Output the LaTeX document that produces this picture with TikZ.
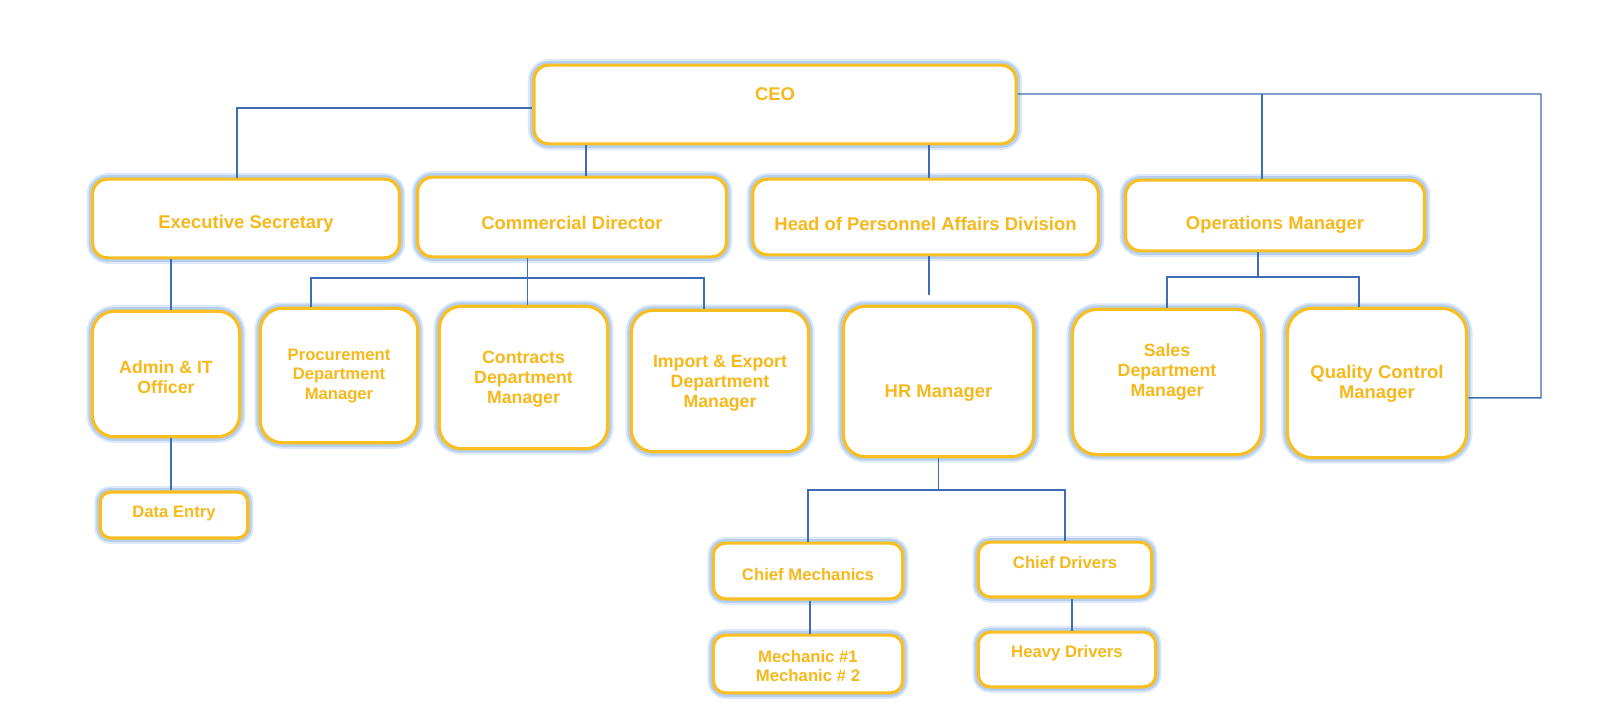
\documentclass[tikz,border=0pt]{standalone}
\usepackage{fontspec}
\setmainfont{Liberation Sans}
\usetikzlibrary{calc}
\definecolor{gold}{HTML}{F9BE22}
\definecolor{goldtxt}{HTML}{F6B81A}
\definecolor{haloin}{HTML}{B4CFF0}
\definecolor{haloout}{HTML}{DDE9F8}
\definecolor{linkblue}{HTML}{3F6DB3}
\tikzset{
  orgbox/.style={draw=gold, line width=3.2bp, fill=white, inner sep=0pt,
    preaction={draw=haloout, line width=12bp},
    preaction={draw=haloin, line width=8bp}},
  boxtxt/.style={text=goldtxt, align=center, inner sep=0pt},
  link/.style={draw=linkblue, line width=1.4bp}
}

\begin{document}
\begin{tikzpicture}[x=1bp,y=-1bp]
  \useasboundingbox (0,0) rectangle (1600,728);
  % boxes: name / left / top / right / bottom / corner / text y / size / text
  \foreach \nm/\xa/\ya/\xb/\yb/\rr/\ty/\sz/\txt in {
    ceo/533/65/1017/144/15/94/18.5/{CEO},
    exsec/92/179/400/258/15/224/18.5/{Executive Secretary},
    comdir/417/177/727/257/15/223/18.5/{Commercial Director},
    hpa/752/179/1099/255/15/224/18.5/{Head of Personnel Affairs Division},
    opsmgr/1125/180/1425/251/15/225/18.5/{Operations Manager},
    admin/92/311/240/437/22/377/17.8/{Admin \& IT\\Officer},
    dataent/100/492/248/538/10/513/16.7/{Data Entry},
    proc/260/308/418/443/22/376/16.7/{Procurement\\Department\\Manager},
    contr/439/306/608/449/22/379/17.8/{Contracts\\Department\\Manager},
    impexp/631/310/809/452/22/383/17.8/{Import \& Export\\Department\\Manager},
    hr/843/306/1034/457/22/393/18.5/{HR Manager},
    sales/1072/309/1262/455/25/372/17.8/{Sales\\Department\\Manager},
    qc/1287/308/1467/458/25/384/18.5/{Quality Control\\Manager},
    chmech/713/543/903/599/12/575/16.8/{Chief Mechanics},
    mech/713/635/903/693/12/666/16.8/{Mechanic \#1\\Mechanic \# 2},
    chdrv/978/542/1152/597/12/563/16.8/{Chief Drivers},
    heavy/978/632/1156/687/12/653/16.8/{Heavy Drivers}} {
      \node[orgbox, rounded corners=\rr, minimum width={\xb-\xa}, minimum height={\yb-\ya}]
        (\nm) at ({(\xa+\xb)/2},{(\ya+\yb)/2}) {};
      \node[boxtxt, font=\fontsize{\sz}{20}\selectfont\bfseries] (\nm-t) at ({(\xa+\xb)/2},\ty) {\txt};
  }
  \coordinate (rail) at (1541,94);
  \coordinate (combus) at (0,278);
  \coordinate (hrbus) at (0,490);
  \coordinate (opsbus) at (0,277);
  % CEO level
  \draw[link] ([yshift=-3.5]ceo.west) -| ([xshift=-9]exsec.north);
  \draw[link] ([xshift=14]comdir.north |- ceo.south) -- ([xshift=14]comdir.north);
  \draw[link] ([xshift=3.5]hpa.north |- ceo.south) -- ([xshift=3.5]hpa.north);
  \draw[link] ([yshift=10.5]ceo.east) -- (rail) |- ([yshift=-15]qc.east);
  \draw[link] ([xshift=-13]opsmgr.north) -- ([xshift=-13]opsmgr.north |- rail);
  % executive secretary
  \draw[link] ([xshift=5]admin.north |- exsec.south) -- ([xshift=5]admin.north);
  \draw[link] ([xshift=5]admin.south) -- ([xshift=5]admin.south |- dataent.north);
  % commercial director
  \draw[link] ([xshift=4]contr.north |- comdir.south) -- ([xshift=4]contr.north);
  \draw[link] ([xshift=-28]proc.north) |- ([xshift=-16]impexp.north |- combus) -- ([xshift=-16]impexp.north);
  % personnel
  \draw[link, shorten >=10bp] ([xshift=3.5]hpa.south) -- ([xshift=3.5]hpa.south |- hr.north);
  \draw[link] (hr.south) -- (hr.south |- hrbus);
  \draw[link] (chmech.north) |- (chdrv.north |- hrbus) -- (chdrv.north);
  \draw[link] ([xshift=2]chmech.south) -- ([xshift=2]mech.north);
  \draw[link] ([xshift=7]chdrv.south) -- ([xshift=7]chdrv.south |- heavy.north);
  % operations
  \draw[link] ([xshift=-17]opsmgr.south) -- ([xshift=-17]opsmgr.south |- opsbus);
  \draw[link] (sales.north) |- ([xshift=-18]qc.north |- opsbus) -- ([xshift=-18]qc.north);
\end{tikzpicture}
\end{document}
